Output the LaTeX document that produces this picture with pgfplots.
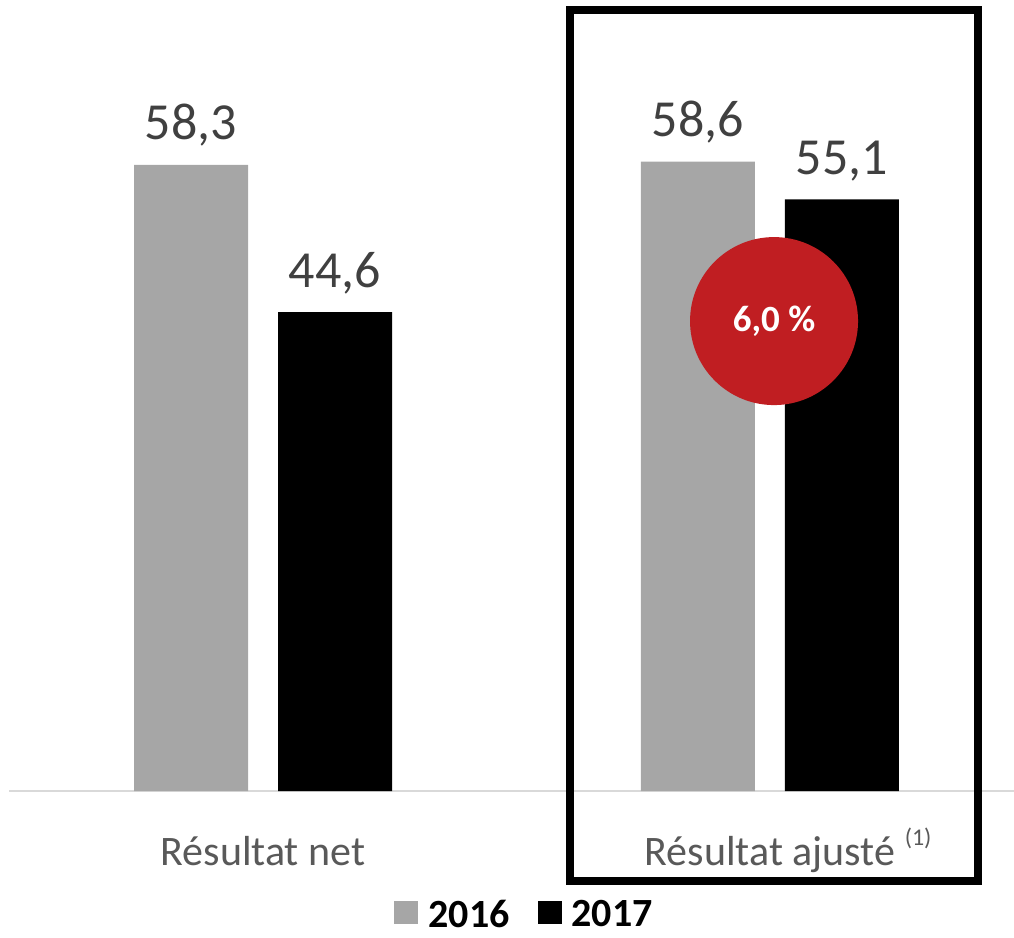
\documentclass[border=0pt]{standalone}
\usepackage{fontspec}
\setmainfont{Carlito}
\usepackage{pgfplots}
\pgfplotsset{compat=1.18}

\definecolor{bar16}{HTML}{A6A6A6}
\definecolor{valtxt}{HTML}{404040}
\definecolor{cattxt}{HTML}{595959}
\definecolor{axisgray}{HTML}{D9D9D9}
\definecolor{badge}{HTML}{C01E22}

\begin{document}
\begin{tikzpicture}
\begin{axis}[
  scale only axis,
  width=502.5pt, height=392.5pt,
  xmin=-0.501, xmax=1.4813,
  ymin=0, ymax=73.1,
  ybar=15pt, bar width=57pt,
  clip=false,
  axis x line=bottom,
  hide y axis,
  x axis line style={-, draw=axisgray, line width=0.75pt},
  xtick={0,1},
  xtick style={draw=none},
  xticklabels={R\'esultat net, {R\'esultat ajust\'e\rlap{ \raisebox{10pt}{\fontsize{12pt}{12pt}\selectfont(1)}}}},
  xticklabel style={anchor=base, yshift=-35pt, font=\fontsize{21pt}{21pt}\selectfont, text=cattxt},
  nodes near coords,
  /pgf/number format/.cd, fixed, fixed zerofill, precision=1, use comma, assume math mode=true,
  /pgfplots/.cd,
  every node near coord/.append style={anchor=base, yshift=12.5pt, inner sep=0pt,
    font=\fontsize{26pt}{26pt}\selectfont, text=valtxt},
  legend columns=2,
  legend style={at={(0.514,-0.158)}, anchor=center, draw=none,
    font=\bfseries\fontsize{20pt}{20pt}\selectfont,
    /tikz/every odd column/.append style={column sep=3pt},
    /tikz/every even column/.append style={column sep=12pt}},
  legend image code/.code={\path[#1] (0pt,-4.5pt) rectangle (12pt,7pt);},
]
\addplot[fill=bar16, draw=none] coordinates {(0,58.3) (1,58.6)};
\addplot[fill=black, draw=none] coordinates {(0,44.6) (1,55.1)};
\legend{2016,2017}

\coordinate (bbA) at (rel axis cs:-0.00896,1.00764);
\coordinate (bbB) at (rel axis cs:1.0,-0.18599);
\draw[line width=4pt, black] (rel axis cs:0.5582,0.9949) rectangle (rel axis cs:0.9642,-0.1146);
\fill[badge] (axis cs:1.008,43.76) circle[radius=42pt];
\node[text=white, font=\bfseries\fontsize{18.5pt}{18.5pt}\selectfont] at (axis cs:1.008,43.76) {6,0 \%};
\end{axis}
\pgfresetboundingbox
\useasboundingbox (bbA) rectangle (bbB);
\end{tikzpicture}
\end{document}
